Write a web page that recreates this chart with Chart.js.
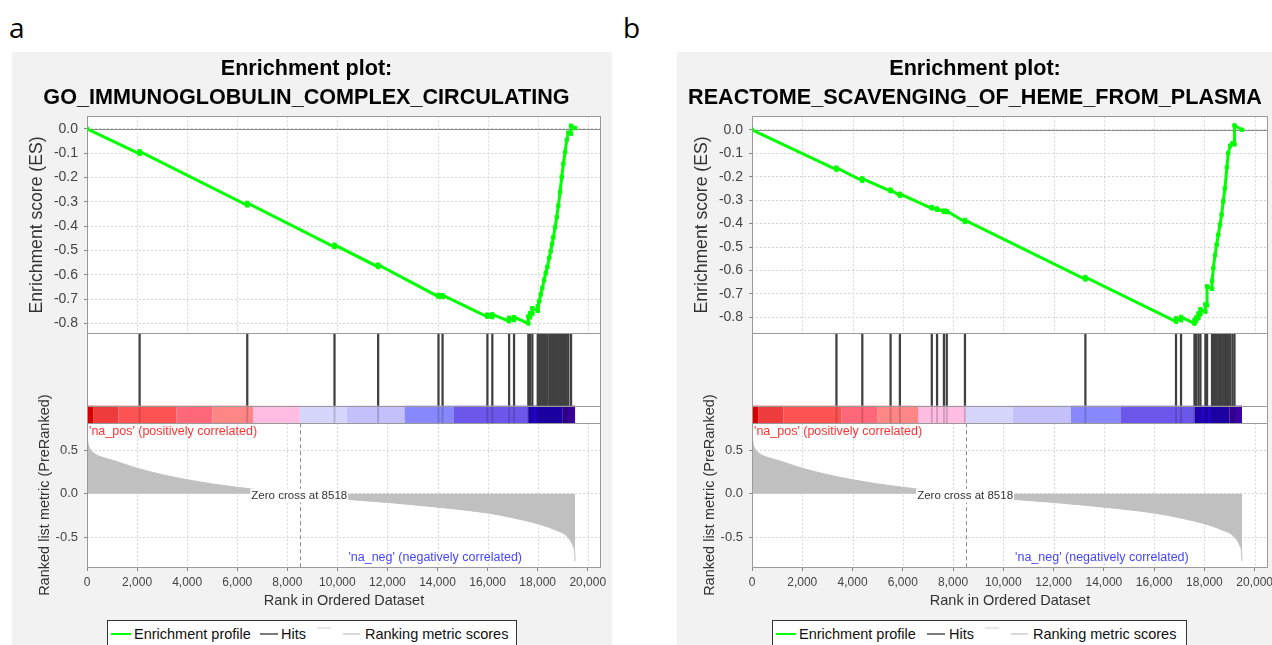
<!DOCTYPE html>
<html>
<head>
<meta charset="utf-8">
<script src="https://cdn.jsdelivr.net/npm/chart.js@4.4.1/dist/chart.umd.min.js"></script>
<style>
  html, body { margin: 0; padding: 0; background: #fff; }
  body { width: 1272px; height: 645px; position: relative; overflow: hidden; font-family: "Liberation Sans", Arial, sans-serif; }
  .tag { position: absolute; top: 12px; font-family: "Open Sans", sans-serif; font-size: 28px; line-height: 30px; color: #000; }
  canvas { position: absolute; top: 52px; }
  .legend { position: absolute; top: 620px; height: 40px; background: #fff; border: 1px solid #333; box-sizing: border-box; font-size: 14.5px; color: #111; }
  .legend span { position: absolute; }
  .legend .ln { height: 2px; top: 12px; }
  .legend .tx { top: 4px; line-height: 18px; white-space: nowrap; }
</style>
</head>
<body>
<div class="tag" style="left:9px">a</div>
<div class="tag" style="left:623px">b</div>
<canvas id="plotA" width="600" height="593" style="left:12px"></canvas>
<canvas id="plotB" width="596" height="593" style="left:677px"></canvas>
<div class="legend" style="left:107px;width:410px">
  <span class="ln" style="left:3px;width:20px;background:#00ff00"></span><span class="tx" style="left:26px">Enrichment profile</span>
  <span class="ln" style="left:152px;width:18px;background:#7a7a7a"></span><span class="tx" style="left:173px">Hits</span>
  <span class="ln" style="left:209px;width:14px;top:6px;background:#e8e8e8"></span>
  <span class="ln" style="left:235px;width:17px;background:#d9d9d9"></span><span class="tx" style="left:257px">Ranking metric scores</span>
</div>
<div class="legend" style="left:772px;width:415px">
  <span class="ln" style="left:3px;width:20px;background:#00ff00"></span><span class="tx" style="left:26px">Enrichment profile</span>
  <span class="ln" style="left:154px;width:18px;background:#7a7a7a"></span><span class="tx" style="left:176px">Hits</span>
  <span class="ln" style="left:212px;width:14px;top:6px;background:#e8e8e8"></span>
  <span class="ln" style="left:238px;width:17px;background:#d9d9d9"></span><span class="tx" style="left:260px">Ranking metric scores</span>
</div>
<script>
const FONT = '"Liberation Sans", Arial, sans-serif';
Chart.defaults.font.family = FONT;

// ranked list (about 19,500 genes), shared by both plots
const xMax = 20530;
const zeroCross = 8518;
const rankTicks = [0, 2000, 4000, 6000, 8000, 10000, 12000, 14000, 16000, 18000, 20000];
const esTicks = [-0.8, -0.7, -0.6, -0.5, -0.4, -0.3, -0.2, -0.1, 0.0];
const metricTicks = [-0.5, 0.0, 0.5];

const metricRank  = [0, 30, 114, 277, 603, 1091, 1500, 1987, 3046, 4023, 5000, 5977, 6629, 7500, 8518,
                     9500, 10342, 12003, 14007, 16010, 17052, 17997, 18681, 19169, 19414, 19480, 19495];
const metricValue = [0.68, 0.60, 0.52, 0.466, 0.42, 0.38, 0.34, 0.294, 0.217, 0.16, 0.114, 0.076, 0.053, 0.025, 0,
                     -0.03, -0.061, -0.099, -0.153, -0.221, -0.278, -0.343, -0.412, -0.488, -0.60, -0.68, -0.774];

// heat strip under the hits
const barEdges  = [0, 244, 1254, 3567, 5000, 6629, 8502, 10375, 12687, 14658, 17622, 19000, 19495];
const barColors = ['#d90000', '#ee3b3b', '#ff5353', '#ff6878', '#ff8686', '#ffbde4',
                   '#d6d6fc', '#c4c0fc', '#8888fc', '#6b58ea', '#2400c8', '#3c00a6'];

// GO_IMMUNOGLOBULIN_COMPLEX_CIRCULATING
const hitsA = [2101, 6401, 9886, 11629, 14039, 14202, 15993, 16189, 16860, 17057, 17628, 17696, 17788,
               18003, 18067, 18123, 18187, 18255, 18322, 18386, 18466, 18522, 18574, 18627, 18695, 18763,
               18826, 18894, 18962, 19026, 19094, 19162, 19226, 19333];
const esA = [[0, 0], [2101, -0.103], [2101, -0.093], [6401, -0.315], [6401, -0.305], [9886, -0.486], [9886, -0.477],
             [11629, -0.568], [11629, -0.559], [14039, -0.690], [14039, -0.683], [14202, -0.691], [14202, -0.684],
             [15993, -0.773], [15993, -0.764], [16189, -0.774], [16189, -0.763], [16860, -0.791], [16860, -0.777],
             [17057, -0.786], [17057, -0.774], [17628, -0.800], [17628, -0.772], [17696, -0.775], [17696, -0.757],
             [17788, -0.760], [17788, -0.738], [18003, -0.748], [18003, -0.730], [18067, -0.708], [18123, -0.680],
             [18187, -0.655], [18255, -0.622], [18322, -0.593], [18386, -0.568], [18466, -0.530], [18522, -0.503],
             [18574, -0.474], [18627, -0.446], [18695, -0.405], [18763, -0.364], [18826, -0.316], [18894, -0.260],
             [18962, -0.198], [19026, -0.144], [19094, -0.096], [19162, -0.046], [19226, -0.016], [19333, -0.020],
             [19333, 0.012], [19500, 0.003]];

// REACTOME_SCAVENGING_OF_HEME_FROM_PLASMA
const hitsB = [3360, 4389, 5514, 5884, 7154, 7363, 7637, 7749, 8473, 13264, 16870, 17070, 17605, 17671, 17763,
               17842, 18039, 18105, 18303, 18355, 18421, 18487, 18553, 18618, 18684, 18750, 18816, 18895, 18948,
               19026, 19118, 19197];
const esB = [[0, 0], [3360, -0.170], [3360, -0.162], [4389, -0.218], [4389, -0.208], [5514, -0.262], [5514, -0.256],
             [5884, -0.281], [5884, -0.273], [7154, -0.335], [7154, -0.330], [7363, -0.341], [7363, -0.336],
             [7637, -0.350], [7637, -0.345], [7749, -0.351], [7749, -0.346], [8473, -0.393], [8473, -0.385],
             [13264, -0.638], [13264, -0.628], [16870, -0.818], [16870, -0.804], [17070, -0.812], [17070, -0.798],
             [17605, -0.826], [17605, -0.812], [17671, -0.815], [17671, -0.800], [17763, -0.803], [17763, -0.783],
             [17842, -0.786], [17842, -0.765], [18039, -0.775], [18039, -0.745], [18105, -0.748], [18105, -0.668],
             [18303, -0.678], [18303, -0.645], [18355, -0.590], [18421, -0.535], [18487, -0.490], [18553, -0.448],
             [18618, -0.405], [18684, -0.362], [18750, -0.305], [18816, -0.250], [18895, -0.160], [18948, -0.100],
             [19026, -0.068], [19118, -0.058], [19197, -0.062], [19197, 0.018], [19500, 0.0]];

const fmt1 = v => (Math.abs(v) < 1e-9 ? 0 : v).toFixed(1);
const useTicks = list => s => { s.ticks = list.map(v => ({value: v})); };

// backgrounds, grid, heat strip, frames and the text notes
const gseaDecor = {
  id: 'gseaDecor',
  beforeDraw(chart) {
    const {ctx, width, height, chartArea: a} = chart;
    ctx.save();
    ctx.fillStyle = '#f2f2f2';
    ctx.fillRect(0, 0, width, height);
    ctx.fillStyle = '#fff';
    ctx.fillRect(a.left, a.top, a.right - a.left, a.bottom - a.top);
    ctx.restore();
  },
  beforeDatasetsDraw(chart) {
    const {ctx, scales} = chart;
    const x = scales.x, yES = scales.yES, yM = scales.yMetric, yB = scales.yBar;
    ctx.save();
    ctx.lineWidth = 1;
    ctx.strokeStyle = '#d4d4d4';
    ctx.setLineDash([2, 2]);
    ctx.beginPath();
    for (const t of x.ticks) {
      const px = Math.round(x.getPixelForValue(t.value)) + 0.5;
      for (const s of [yES, yM]) { ctx.moveTo(px, s.top); ctx.lineTo(px, s.bottom); }
    }
    ctx.stroke();

    ctx.setLineDash([]);
    ctx.strokeStyle = '#8c8c8c';
    const z = Math.round(yES.getPixelForValue(0)) + 0.5;
    ctx.beginPath(); ctx.moveTo(chart.chartArea.left, z); ctx.lineTo(chart.chartArea.right, z); ctx.stroke();

    for (let i = 0; i < barColors.length; i++) {
      const x0 = x.getPixelForValue(barEdges[i]);
      const x1 = x.getPixelForValue(barEdges[i + 1]);
      ctx.fillStyle = barColors[i];
      ctx.fillRect(x0, yB.top, x1 - x0, yB.bottom - yB.top);
    }

    ctx.strokeStyle = '#8a8a8a';
    ctx.setLineDash([4, 3]);
    const zc = Math.round(x.getPixelForValue(zeroCross)) + 0.5;
    ctx.beginPath(); ctx.moveTo(zc, yM.top); ctx.lineTo(zc, yM.bottom); ctx.stroke();
    ctx.restore();
  },
  afterDatasetsDraw(chart) {
    const {ctx, scales, chartArea: a} = chart;
    const x = scales.x, yM = scales.yMetric;
    ctx.save();
    ctx.strokeStyle = '#9a9a9a';
    ctx.lineWidth = 1;
    for (const s of [scales.yES, scales.yHits, scales.yBar, yM]) {
      ctx.strokeRect(a.left + 0.5, Math.round(s.top) + 0.5, a.right - a.left - 1, Math.round(s.bottom) - Math.round(s.top));
    }

    ctx.textBaseline = 'middle';
    ctx.font = '12.5px ' + FONT;
    ctx.fillStyle = '#ff3333';
    ctx.textAlign = 'left';
    ctx.fillText("'na_pos' (positively correlated)", a.left + 2, yM.top + 8);
    ctx.fillStyle = '#4646ff';
    ctx.textAlign = 'right';
    ctx.fillText("'na_neg' (negatively correlated)", x.getPixelForValue(17376), yM.bottom - 9);

    const label = 'Zero cross at ' + zeroCross;
    ctx.font = '11.5px ' + FONT;
    const w = ctx.measureText(label).width;
    const cx = x.getPixelForValue(zeroCross) - 1;
    const cy = yM.getPixelForValue(0) + 2;
    ctx.fillStyle = '#fff';
    ctx.fillRect(cx - w / 2 - 1, cy - 7, w + 2, 14);
    ctx.fillStyle = '#333';
    ctx.textAlign = 'center';
    ctx.fillText(label, cx, cy);
    ctx.restore();
  }
};

function makePanel(id, geneSet, hits, es, esMin, esMax, padRight) {
  const points = es.map(p => ({x: p[0], y: p[1]}));
  const metric = metricRank.map((r, i) => ({x: r, y: metricValue[i]}));
  const hitBars = hits.map(r => ({x: r, y: [0, 1]}));
  const fixWidth = s => { s.width = 75; };
  return new Chart(document.getElementById(id), {
    type: 'line',
    data: {
      datasets: [
        { type: 'line', label: 'Enrichment profile', data: points, yAxisID: 'yES',
          borderColor: '#00ff00', borderWidth: 3, pointStyle: 'rect', pointRadius: 2.4,
          pointBackgroundColor: '#00ff00', pointBorderColor: '#00ff00', pointBorderWidth: 1, order: 0 },
        { type: 'bar', label: 'Hits', data: hitBars, yAxisID: 'yHits',
          backgroundColor: '#404040', barThickness: 1.6, grouped: false, order: 1 },
        { type: 'bar', label: 'Hits (strip)', data: hitBars, yAxisID: 'yBar',
          backgroundColor: 'rgba(0,0,0,0.18)', barThickness: 1.2, grouped: false, order: 2 },
        { type: 'line', label: 'Ranking metric scores', data: metric, yAxisID: 'yMetric',
          borderColor: '#c0c0c0', borderWidth: 1, backgroundColor: '#c0c0c0', fill: 'origin',
          pointRadius: 0, cubicInterpolationMode: 'monotone', order: 3 }
      ]
    },
    options: {
      responsive: false,
      animation: false,
      devicePixelRatio: 1,
      layout: { padding: { left: 0, right: padRight, top: 0, bottom: 33 } },
      plugins: {
        legend: { display: false },
        tooltip: { enabled: false },
        title: {
          display: true,
          text: ['Enrichment plot:', geneSet],
          color: '#000',
          font: { family: FONT, size: 21.6, weight: 'bold', lineHeight: 1.33 },
          padding: { top: 3, bottom: 4 }
        }
      },
      scales: {
        x: {
          type: 'linear', min: 0, max: xMax, offset: false,
          afterBuildTicks: useTicks(rankTicks),
          afterFit: s => { s.height = 45; s.paddingLeft = 0; s.paddingRight = 0; },
          grid: { offset: false, drawOnChartArea: false, drawTicks: true, tickLength: 4, tickColor: '#888' },
          border: { display: false },
          ticks: { padding: 4, color: '#444', maxRotation: 0, autoSkip: false, font: { size: 12 } },
          title: { display: true, text: 'Rank in Ordered Dataset', color: '#333', font: { size: 14.5 },
                   padding: { top: 0, bottom: 2 } }
        },
        // stacked panels: the last one listed sits on top
        yMetric: {
          type: 'linear', position: 'left', stack: 'gsea', stackWeight: 144,
          min: -0.84, max: 0.81, afterFit: fixWidth, afterBuildTicks: useTicks(metricTicks),
          grid: { color: '#d4d4d4', drawTicks: true, tickLength: 3, tickColor: '#888' },
          border: { display: false, dash: [2, 2] },
          ticks: { autoSkip: false, padding: 6, color: '#444', font: { size: 13 }, callback: fmt1 },
          title: { display: true, text: 'Ranked list metric (PreRanked)', color: '#333', font: { size: 14.5 },
                   padding: { top: 24, bottom: 0 } }
        },
        yBar: {
          type: 'linear', position: 'left', stack: 'gsea', stackWeight: 17.6, min: 0, max: 1,
          ticks: { display: false }, grid: { display: false }, border: { display: false }
        },
        yHits: {
          type: 'linear', position: 'left', stack: 'gsea', stackWeight: 72.4, min: 0, max: 1,
          ticks: { display: false }, grid: { display: false }, border: { display: false }
        },
        yES: {
          type: 'linear', position: 'left', stack: 'gsea', stackWeight: 217.3,
          min: esMin, max: esMax, afterFit: fixWidth, afterBuildTicks: useTicks(esTicks),
          grid: { color: '#d4d4d4', drawTicks: true, tickLength: 3, tickColor: '#888' },
          border: { display: false, dash: [2, 2] },
          ticks: { autoSkip: false, padding: 6, color: '#444', font: { size: 14 }, callback: fmt1 },
          title: { display: true, text: 'Enrichment score (ES)', color: '#333', font: { size: 17.6 },
                   padding: { top: 15, bottom: 0 } }
        }
      }
    },
    plugins: [gseaDecor]
  });
}

makePanel('plotA', 'GO_IMMUNOGLOBULIN_COMPLEX_CIRCULATING', hitsA, esA, -0.841, 0.0505, 11);
makePanel('plotB', 'REACTOME_SCAVENGING_OF_HEME_FROM_PLASMA', hitsB, esB, -0.868, 0.0566, 0);
</script>
</body>
</html>
